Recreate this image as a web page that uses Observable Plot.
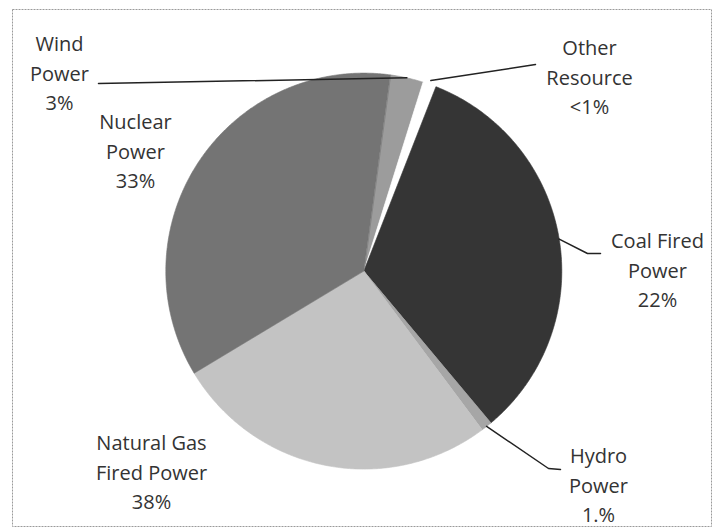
<!DOCTYPE html>
<html><head><meta charset="utf-8">
<script src="https://cdn.jsdelivr.net/npm/d3@7"></script>
<script src="https://cdn.jsdelivr.net/npm/@observablehq/plot@0.6"></script>
<style>body{margin:0;background:#fff}</style>
</head><body><div id="chart"></div>
<script>
// ---- data ----
const sources = ["Wind Power","Other Resource","Coal Fired Power","Hydro Power","Natural Gas Fired Power","Nuclear Power"];
const shares  = [2.7, 1.1, 33.0, 0.9, 26.6, 35.8];   // slice sizes as drawn (%)
const labelTexts = ["Wind\nPower\n3%","Other\nResource\n<1%","Coal Fired\nPower\n22%","Hydro\nPower\n1.%","Natural Gas\nFired Power\n38%","Nuclear\nPower\n33%"];
const grays = ["#9c9c9c","#ffffff","#353535","#a6a6a6","#c3c3c3","#747474"];

// ---- layout ----
const W = 719, H = 531, cx = 363.3, cy = 270.6, R = 198;
const startDeg = 7.7;
const labelPos = [[59,71],[589,75],[657,268],[598,483],[151,470],[135,149]];
const leaderBends = [[[98,83]],[[535,64]],[[587,253],[600,253]],[[548,468],[560,469]],null,null];
const leaderR = [1, 1.02, 1, 1, 0, 0];

const rows = sources.map((s,i)=>({source:s, share:shares[i], label:labelTexts[i]}));
const start = startDeg*Math.PI/180;
const arcs = d3.pie().sort(null).value(d=>d.share).startAngle(start).endAngle(start+2*Math.PI)(rows);

const slicePts = [];
arcs.forEach(a=>{
  const src = a.data.source;
  slicePts.push({source:src, x:cx, y:cy});
  const n = Math.max(4, Math.ceil((a.endAngle-a.startAngle)/(Math.PI/360)));
  for(let k=0;k<=n;k++){
    const t = a.startAngle + (a.endAngle-a.startAngle)*k/n;
    slicePts.push({source:src, x:cx+R*Math.sin(t), y:cy-R*Math.cos(t)});
  }
});

const leaderPts = [];
arcs.forEach((a,i)=>{
  if(!leaderBends[i]) return;
  const m = (a.startAngle+a.endAngle)/2, r = R*leaderR[i];
  leaderPts.push({id:i, x:cx+r*Math.sin(m), y:cy-r*Math.cos(m)});
  leaderBends[i].forEach(p=>leaderPts.push({id:i, x:p[0], y:p[1]}));
});

const labels = rows.map((d,i)=>({text:d.label, x:labelPos[i][0], y:labelPos[i][1]}));

const chart = Plot.plot({
  width: W, height: H,
  marginLeft: 12, marginRight: 8, marginTop: 9, marginBottom: 5,
  x: {domain:[12, 711], axis:null},
  y: {domain:[526, 9], axis:null},
  color: {domain: sources, range: grays},
  style: {background:"#fff", fontFamily:"'Open Sans', Lato, sans-serif"},
  marks: [
    Plot.frame({stroke:"#9a9a9a", strokeDasharray:"2,1"}),
    Plot.line(slicePts, {x:"x", y:"y", z:"source", fill:"source", stroke:"source", strokeWidth:0.6, curve:"linear-closed"}),
    Plot.line(leaderPts, {x:"x", y:"y", z:"id", stroke:"#222", strokeWidth:1.5}),
    Plot.text(labels, {x:"x", y:"y", text:"text", fontSize:20, lineHeight:1.475, fill:"#333", textAnchor:"middle"})
  ]
});
document.getElementById("chart").appendChild(chart);
</script>
</body></html>
